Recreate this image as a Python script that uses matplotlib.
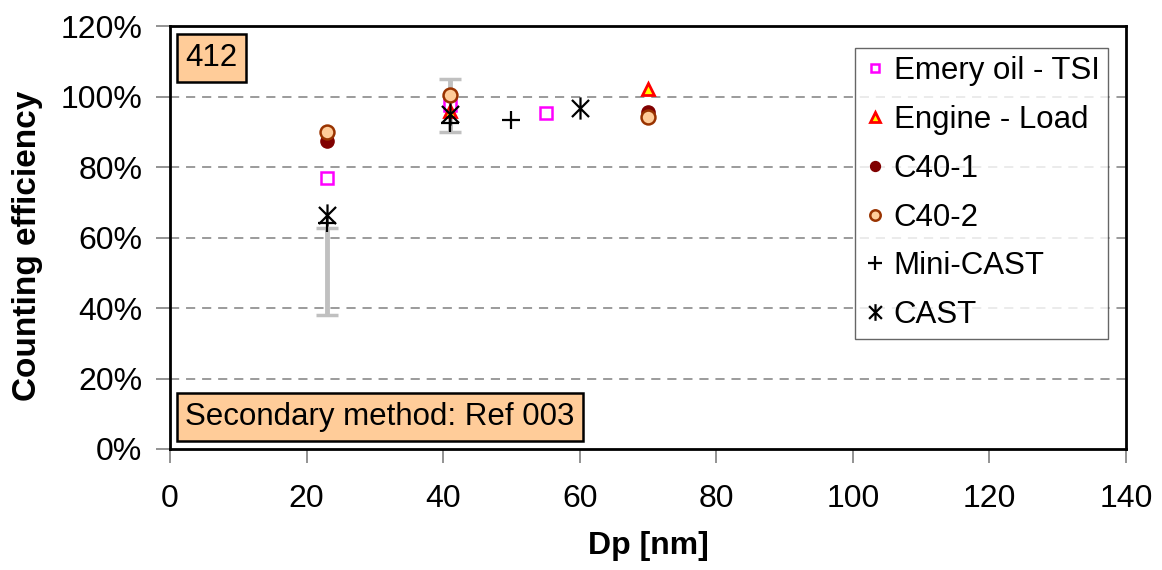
import matplotlib
matplotlib.use('Agg')
import numpy as np
import matplotlib.pyplot as plt
from matplotlib.path import Path
from matplotlib.ticker import PercentFormatter

plt.rcParams['font.family'] = ['Liberation Sans', 'DejaVu Sans']

# data (Dp in nm, efficiency as fraction)
emery_x = [23, 41, 55]
emery_y = [0.768, 0.975, 0.953]
engine_x = [41, 70]
engine_y = [0.960, 1.022]
c401_x = [23, 70]
c401_y = [0.875, 0.956]
c402_x = [23, 41, 70]
c402_y = [0.898, 1.005, 0.942]
mini_x = [23, 41, 50]
mini_y = [0.640, 0.925, 0.932]
cast_x = [23, 41, 60]
cast_y = [0.665, 0.950, 0.967]
err_x = [23, 41]
err_low = [0.381, 0.900]
err_high = [0.627, 1.050]

# excel-like asterisk: X plus vertical bar
star = Path([(-1, -1), (1, 1), (-1, 1), (1, -1), (0, -1.3), (0, 1.3)],
            [Path.MOVETO, Path.LINETO, Path.MOVETO, Path.LINETO, Path.MOVETO, Path.LINETO])

fig = plt.figure(figsize=(11.62, 5.70), dpi=100)
ax = fig.add_axes([170/1162, 1-449/570, 956/1162, 423/570])

err_x = np.array(err_x)
lo = np.array(err_low)
hi = np.array(err_high)
ax.errorbar(err_x, (lo+hi)/2, yerr=(hi-lo)/2, fmt='none', ecolor='#c0c0c0',
            elinewidth=3.5, capsize=8, capthick=2.5, zorder=2)

ax.plot(emery_x, emery_y, ls='none', marker='s', ms=8, mfc='white', mec='#ff00ff', mew=1.8,
        label='Emery oil - TSI', zorder=3)
ax.plot(engine_x, engine_y, ls='none', marker='^', ms=9, mfc='#ffff00', mec='#ff0000', mew=2,
        label='Engine - Load', zorder=3)
ax.plot(c401_x, c401_y, ls='none', marker='o', ms=9.5, mfc='#800000', mec='#800000', mew=1,
        label='C40-1', zorder=3)
ax.plot(c402_x, c402_y, ls='none', marker='o', ms=10, mfc='#ffcc99', mec='#993300', mew=1.8,
        label='C40-2', zorder=3)
ax.plot(mini_x, mini_y, ls='none', marker='+', ms=13, mec='black', mew=1.6,
        label='Mini-CAST', zorder=4)
ax.plot(cast_x, cast_y, ls='none', marker=star, ms=16, mfc='none', mec='black', mew=1.6,
        label='CAST', zorder=4)

ax.set_xlim(0, 140)
ax.set_ylim(0, 1.2)
ax.set_xticks(np.arange(0, 141, 20))
ax.set_yticks(np.arange(0, 1.21, 0.2))
ax.yaxis.set_major_formatter(PercentFormatter(1.0, decimals=0))
for y in np.arange(0.2, 1.01, 0.2):
    ax.axhline(y, color='#808080', lw=1.1, ls=(0, (6, 4.5)), zorder=1)

for s in ax.spines.values():
    s.set_linewidth(2)
    s.set_color('black')
ax.tick_params(axis='both', direction='out', length=10, width=1.2, color='#808080',
               labelsize=23)
ax.tick_params(axis='x', pad=15)
ax.tick_params(axis='y', pad=10)

ax.set_xlabel('Dp [nm]', fontsize=23, fontweight='bold')
ax.set_ylabel('Counting efficiency', fontsize=24, fontweight='bold')
ax.xaxis.set_label_coords(0.5, -0.195)
ax.yaxis.set_label_coords(-0.133, 0.48)

box = dict(boxstyle='square,pad=0.28', facecolor='#ffcc99', edgecolor='black', linewidth=1.8)
ax.text(0.016, 0.96, '412', transform=ax.transAxes, fontsize=22.5, va='top', ha='left', bbox=box)
ax.text(0.016, 0.04, 'Secondary method: Ref 003', transform=ax.transAxes, fontsize=22.5,
        va='bottom', ha='left', bbox=box)

leg = ax.legend(loc='upper right', bbox_to_anchor=(0.981, 0.948), borderaxespad=0,
                fontsize=22.5, frameon=True, fancybox=False, labelspacing=0.6,
                handlelength=0.7, handletextpad=0.25, borderpad=0.27, markerscale=0.75)
leg.get_frame().set_edgecolor('#404040')
leg.get_frame().set_linewidth(1)

fig.savefig('out.png', dpi=100)
